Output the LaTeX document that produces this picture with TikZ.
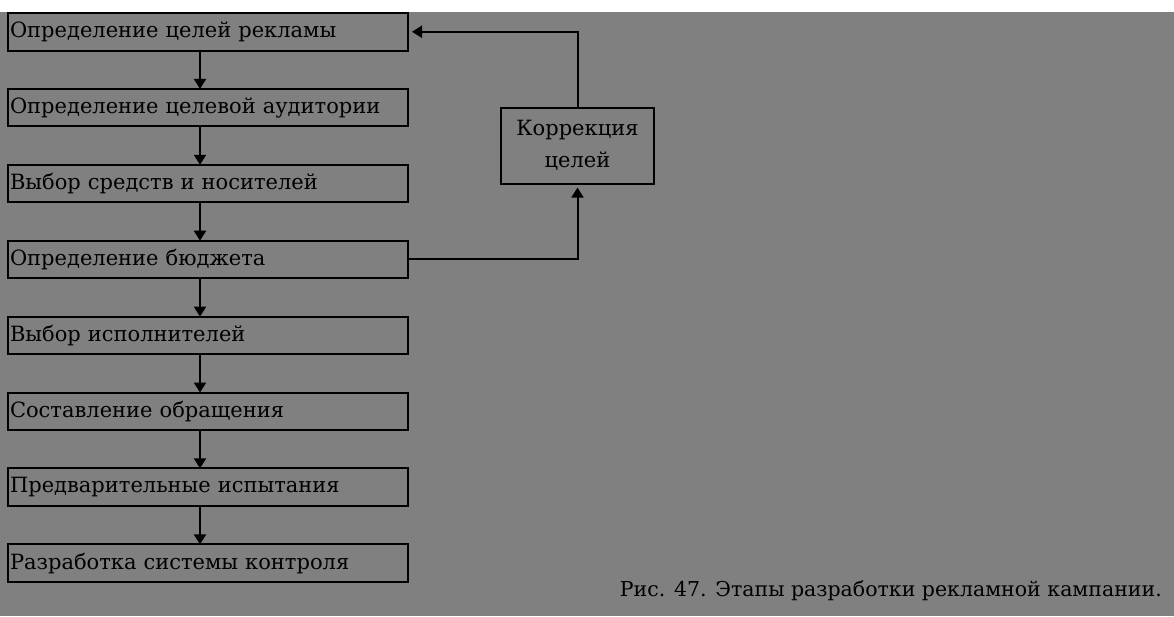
\documentclass[tikz,border=0pt]{standalone}
\usepackage{fontspec}
\setmainfont{DejaVu Serif}
\usetikzlibrary{arrows.meta, positioning, calc}
\definecolor{sheetgray}{RGB}{128, 128, 128}

\begin{document}
\begin{tikzpicture}[
			x=1pt, y=1pt,
			>={Triangle[width=12pt, length=10pt]},
			node distance=38.4pt,
			font=\fontsize{21}{25}\selectfont,
			% Flowchart node styles
			stage/.style={
				draw, rectangle,
				text width=396pt, minimum height=37.5pt,
				inner xsep=2pt, inner ysep=0pt, outer sep=0pt,
				align=left, line width=2pt
			},
			feedback/.style={
				draw, rectangle,
				minimum width=153pt, minimum height=76pt,
				inner sep=0pt, outer sep=0pt,
				align=center, line width=2pt
			},
			arrow/.style={->, line width=2pt},
			looparrow/.style={->, line width=2pt, shorten >=4pt}
		]

		% Sheet
		\fill[white] (0, 0) rectangle (1174, -616);
		\fill[sheetgray] (0, -12) rectangle (1174, -616);
		\useasboundingbox (0, 0) rectangle (1174, -616);

		% Nodes (top to bottom)
		\node[stage, anchor=north west] (goals) at (8, -13)
			{Определение целей рекламы};

		\node[stage, below=of goals] (audience)
			{Определение целевой аудитории};

		\node[stage, below=of audience] (media)
			{Выбор средств и носителей};

		\node[stage, below=of media] (budget)
			{Определение бюджета};

		\node[stage, below=of budget] (makers)
			{Выбор исполнителей};

		\node[stage, below=of makers] (message)
			{Составление обращения};

		\node[stage, below=of message] (pretest)
			{Предварительные испытания};

		\node[stage, below=of pretest] (control)
			{Разработка системы контроля};

		% Side box
		\node[feedback, right=93pt of {$(audience.east)!0.5!(media.east)$}] (correct)
			{Коррекция\\[7pt]целей};

		% Caption
		\node[anchor=base east, inner sep=0pt, font=\fontsize{20.5}{25}\selectfont]
			(caption) at (1162, -596)
			{Рис. 47. Этапы разработки рекламной кампании.};

		% Arrows (a little left of the box centres)
		\draw[arrow] ([xshift=-8pt]goals.south)    -- ([xshift=-8pt]audience.north);
		\draw[arrow] ([xshift=-8pt]audience.south) -- ([xshift=-8pt]media.north);
		\draw[arrow] ([xshift=-8pt]media.south)    -- ([xshift=-8pt]budget.north);
		\draw[arrow] ([xshift=-8pt]budget.south)   -- ([xshift=-8pt]makers.north);
		\draw[arrow] ([xshift=-8pt]makers.south)   -- ([xshift=-8pt]message.north);
		\draw[arrow] ([xshift=-8pt]message.south)  -- ([xshift=-8pt]pretest.north);
		\draw[arrow] ([xshift=-8pt]pretest.south)  -- ([xshift=-8pt]control.north);

		% Loop: budget -> correction -> goals
		\draw[looparrow] (budget.east) -| (correct.south);
		\draw[looparrow] (correct.north) |- (goals.east);

		\end{tikzpicture}
\end{document}
